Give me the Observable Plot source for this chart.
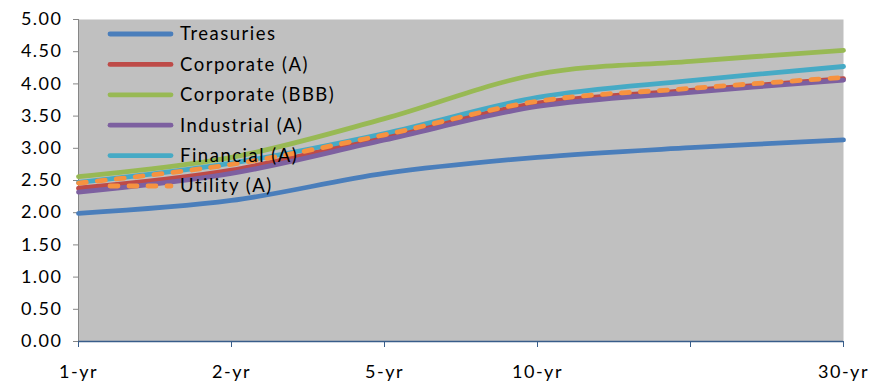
<!DOCTYPE html>
<html>
<head>
<meta charset="utf-8">
<script src="https://cdn.jsdelivr.net/npm/d3@7"></script>
<script src="https://cdn.jsdelivr.net/npm/@observablehq/plot@0.6"></script>
<style>
  html, body { margin: 0; padding: 0; background: #ffffff; }
  #chart svg { display: block; }
  #chart svg text { letter-spacing: 1.5px; }
</style>
</head>
<body>
<div id="chart"></div>
<script>
// Yield curves by maturity (%)
const tenors = [1, 2, 5, 10, 20, 30];
const tickLabels = ["1-yr", "2-yr", "5-yr", "10-yr", "", "30-yr"];

const seriesNames = ["Treasuries", "Corporate (A)", "Corporate (BBB)", "Industrial (A)", "Financial (A)", "Utility (A)"];
const treasuries   = [1.99, 2.19, 2.61, 2.86, 3.01, 3.13];
const corporateA   = [2.38, 2.66, 3.18, 3.70, 3.90, 4.08];
const corporateBBB = [2.56, 2.86, 3.46, 4.15, 4.35, 4.52];
const industrialA  = [2.32, 2.61, 3.13, 3.65, 3.87, 4.06];
const financialA   = [2.47, 2.77, 3.23, 3.79, 4.05, 4.27];
const utilityA     = [2.46, 2.75, 3.21, 3.73, 3.93, 4.10];
const seriesValues = [treasuries, corporateA, corporateBBB, industrialA, financialA, utilityA];

const colors = ["#4A7EBB", "#BE4B48", "#98B954", "#7D60A0", "#46AAC5", "#F69240"];
const dashed = [false, false, false, false, false, true];

const yTicks = d3.range(0, 5.001, 0.5);

const rows = seriesNames.flatMap((name, i) =>
  tenors.map((t, j) => ({series: name, tenor: t, value: seriesValues[i][j], idx: i}))
);

const W = 869, H = 383;
const margin = {top: 19, right: 26, bottom: 42, left: 78};
const font = "Lato, 'Open Sans', sans-serif";

const lineMarks = seriesNames.map((name, i) =>
  Plot.line(rows.filter(d => d.idx === i), {
    x: "tenor", y: "value",
    stroke: colors[i],
    strokeWidth: 4.8,
    strokeLinecap: "round",
    strokeLinejoin: "round",
    strokeDasharray: dashed[i] ? "8,11" : null,
    curve: "catmull-rom"
  })
);

const chart = Plot.plot({
  width: W, height: H,
  marginTop: margin.top, marginRight: margin.right,
  marginBottom: margin.bottom, marginLeft: margin.left,
  style: {fontFamily: font, fontSize: "18px", color: "#000", background: "#fff", overflow: "visible"},
  x: {type: "point", domain: tenors, padding: 0},
  y: {domain: [0, 5]},
  marks: [
    Plot.frame({fill: "#C0C0C0", stroke: null}),
    Plot.ruleX([tenors[0]], {stroke: "#868686", strokeWidth: 1}),
    Plot.axisY({ticks: yTicks, tickFormat: d3.format(".2f"), tickSize: 5, tickPadding: 11,
                stroke: "#868686", label: null, fontSize: 18}),
    Plot.axisX({ticks: tenors, tickFormat: d => tickLabels[tenors.indexOf(d)], tickSize: 6,
                tickPadding: 18, stroke: "#385D8A", label: null, fontSize: 18}),
    ...lineMarks,
    Plot.ruleY([0], {stroke: "#385D8A", strokeWidth: 1.5})
  ]
});

// Legend inside the plot area, top-left, drawn over the lines
const svg = d3.select(chart);
const legend = svg.append("g")
  .attr("transform", `translate(${margin.left + 30},${margin.top + 15})`)
  .attr("font-family", font)
  .attr("font-size", 18.5)
  .attr("text-anchor", "start");
const rowStep = 30.4;
seriesNames.forEach((name, i) => {
  const g = legend.append("g").attr("transform", `translate(0,${i * rowStep})`);
  g.append("line")
    .attr("x1", 2).attr("x2", 63).attr("y1", 0).attr("y2", 0)
    .attr("stroke", colors[i]).attr("stroke-width", 4.8)
    .attr("stroke-linecap", "round")
    .attr("stroke-dasharray", dashed[i] ? "8,11" : null);
  g.append("text")
    .attr("x", 72).attr("y", 0).attr("dy", "0.35em")
    .attr("fill", "#000")
    .text(name);
});

document.getElementById("chart").appendChild(chart);
</script>
</body>
</html>
